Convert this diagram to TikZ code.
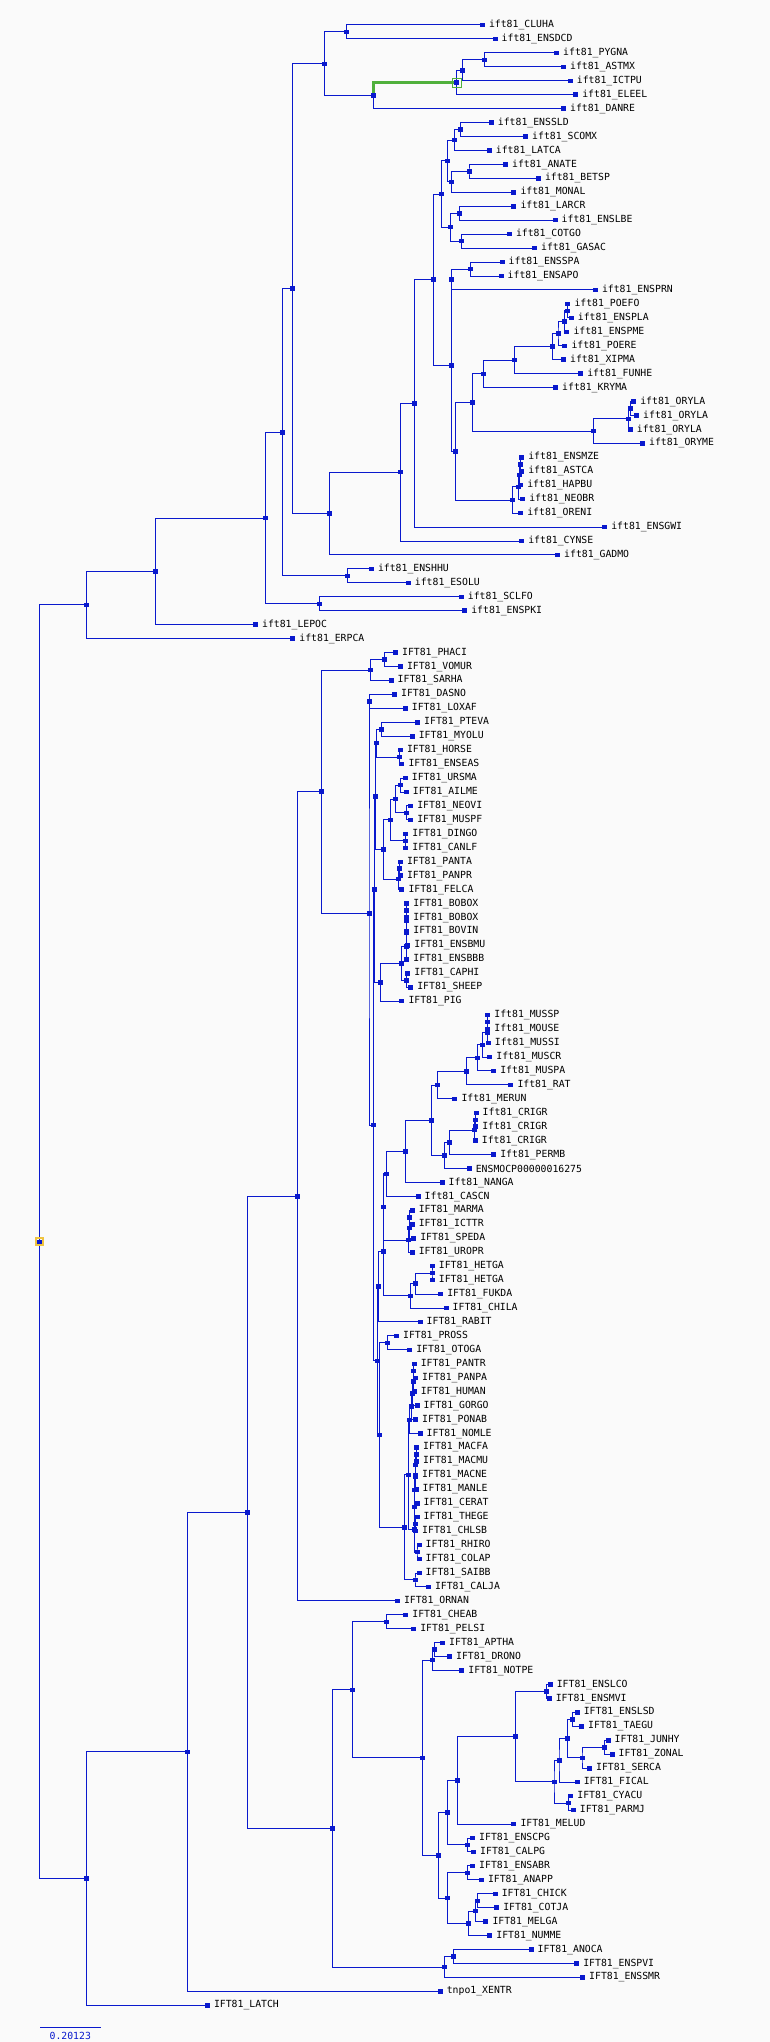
\documentclass[tikz,border=0pt]{standalone}
\usepackage{fontspec}
\usepackage{tikz}
\usetikzlibrary{calc}
\newfontfamily\tipfont{DejaVu Sans Mono}
\definecolor{treeblue}{RGB}{10,25,205}
\definecolor{paper}{RGB}{250,250,250}
\definecolor{pickgreen}{RGB}{80,176,60}
\definecolor{rootgold}{RGB}{240,196,64}
\tikzset{
  /tikz/.cd,
  branch/.style={draw=treeblue,line width=1pt},
  nodebox/.style={fill=treeblue,inner sep=0pt,minimum width=5pt,minimum height=4.5pt},
  taxon/.style={anchor=west,xshift=6.5pt,inner sep=0pt,font=\tipfont\fontsize{9.8}{10}\selectfont}
}
% leaf: name, row, x, label
\newcommand{\addleaf}[4]{%
  \coordinate (#1) at (#3,{25+(#2-1)*13.946});
  \node[nodebox] at (#1) {};
  \node[taxon] at (#1) {#4};}
% inner node: name, x, upper child, lower child
\newcommand{\addclade}[4]{%
  \path let \p1=($(#3)!.5!(#4)$) in (#2pt,\y1) coordinate (#1);
  \draw[branch] (#3) -| (#1) |- (#4);
  \node[nodebox] at (#1) {};}

\begin{document}
\begin{tikzpicture}[x=1pt,y=-1pt,
    picked/.style={draw=pickgreen,line width=2.8pt},
    pickbox/.style={draw=pickgreen,line width=0.8pt,inner sep=0pt,minimum size=9pt},
    rootbox/.style={draw=rootgold,line width=2pt,inner sep=0pt,minimum size=7pt}]
  \useasboundingbox (0,0) rectangle (770,2042);
  \fill[paper] (0,0) rectangle (770,2042);

  % ray-finned fishes
  \addleaf{cluha}{1}{482.3}{ift81\_CLUHA}
  \addleaf{ensdcd}{2}{495.0}{ift81\_ENSDCD}
  \addclade{n1}{346.8}{cluha}{ensdcd}
  \addleaf{pygna}{3}{556.5}{ift81\_PYGNA}
  \addleaf{astmx}{4}{563.4}{ift81\_ASTMX}
  \addclade{n2}{484.8}{pygna}{astmx}
  \addleaf{ictpu}{5}{570.2}{ift81\_ICTPU}
  \addclade{n3}{462.2}{n2}{ictpu}
  \addleaf{eleel}{6}{575.6}{ift81\_ELEEL}
  \addclade{n4}{456.8}{n3}{eleel}
  \addleaf{danre}{7}{563.4}{ift81\_DANRE}
  \addclade{n5}{373.8}{n4}{danre}
  \addclade{n6}{324.2}{n1}{n5}
  \addleaf{enssld}{8}{491.2}{ift81\_ENSSLD}
  \addleaf{scomx}{9}{525.5}{ift81\_SCOMX}
  \addclade{n7}{460.2}{enssld}{scomx}
  \addleaf{latca}{10}{489.2}{ift81\_LATCA}
  \addclade{n8}{454.3}{n7}{latca}
  \addleaf{anate}{11}{505.4}{ift81\_ANATE}
  \addleaf{betsp}{12}{538.3}{ift81\_BETSP}
  \addclade{n9}{469.0}{anate}{betsp}
  \addleaf{monal}{13}{513.8}{ift81\_MONAL}
  \addclade{n10}{451.9}{n9}{monal}
  \addclade{n11}{447.9}{n8}{n10}
  \addleaf{larcr}{14}{513.8}{ift81\_LARCR}
  \addleaf{enslbe}{15}{555.0}{ift81\_ENSLBE}
  \addclade{n12}{459.7}{larcr}{enslbe}
  \addleaf{cotgo}{16}{509.3}{ift81\_COTGO}
  \addleaf{gasac}{17}{534.4}{ift81\_GASAC}
  \addclade{n13}{461.7}{cotgo}{gasac}
  \addclade{n14}{450.4}{n12}{n13}
  \addclade{n15}{441.6}{n11}{n14}
  \addleaf{ensspa}{18}{502.0}{ift81\_ENSSPA}
  \addleaf{ensapo}{19}{501.0}{ift81\_ENSAPO}
  \addclade{n16}{470.5}{ensspa}{ensapo}
  \addleaf{ensprn}{20}{595.3}{ift81\_ENSPRN}
  \addclade{n17}{451.9}{n16}{ensprn}
  \addleaf{poefo}{21}{567.8}{ift81\_POEFO}
  \addleaf{enspla}{22}{571.2}{ift81\_ENSPLA}
  \addclade{n18}{567.3}{poefo}{enspla}
  \addleaf{enspme}{23}{566.8}{ift81\_ENSPME}
  \addclade{n19}{564.8}{n18}{enspme}
  \addleaf{poere}{24}{564.8}{ift81\_POERE}
  \addclade{n20}{558.0}{n19}{poere}
  \addleaf{xipma}{25}{563.4}{ift81\_XIPMA}
  \addclade{n21}{552.5}{n20}{xipma}
  \addleaf{funhe}{26}{580.6}{ift81\_FUNHE}
  \addclade{n22}{514.7}{n21}{funhe}
  \addleaf{kryma}{27}{555.5}{ift81\_KRYMA}
  \addclade{n23}{483.8}{n22}{kryma}
  \addleaf{oryla1}{28}{633.6}{ift81\_ORYLA}
  \addleaf{oryla2}{29}{636.5}{ift81\_ORYLA}
  \addclade{n24}{630.7}{oryla1}{oryla2}
  \addleaf{oryla3}{30}{630.2}{ift81\_ORYLA}
  \addclade{n25}{628.7}{n24}{oryla3}
  \addleaf{oryme}{31}{642.4}{ift81\_ORYME}
  \addclade{n26}{593.3}{n25}{oryme}
  \addclade{n27}{472.5}{n23}{n26}
  \addleaf{ensmze}{32}{521.6}{ift81\_ENSMZE}
  \addleaf{astca}{33}{521.6}{ift81\_ASTCA}
  \addclade{n28}{520.6}{ensmze}{astca}
  \addleaf{hapbu}{34}{520.6}{ift81\_HAPBU}
  \addclade{n29}{519.6}{n28}{hapbu}
  \addleaf{neobr}{35}{522.6}{ift81\_NEOBR}
  \addclade{n30}{518.7}{n29}{neobr}
  \addleaf{oreni}{36}{520.6}{ift81\_ORENI}
  \addclade{n31}{512.3}{n30}{oreni}
  \addclade{n32}{455.3}{n27}{n31}
  \addclade{n33}{451.4}{n17}{n32}
  \addclade{n34}{433.2}{n15}{n33}
  \addleaf{ensgwi}{37}{604.6}{ift81\_ENSGWI}
  \addclade{n35}{414.1}{n34}{ensgwi}
  \addleaf{cynse}{38}{521.6}{ift81\_CYNSE}
  \addclade{n36}{400.3}{n35}{cynse}
  \addleaf{gadmo}{39}{557.5}{ift81\_GADMO}
  \addclade{n37}{329.1}{n36}{gadmo}
  \addclade{n38}{292.7}{n6}{n37}
  \addleaf{enshhu}{40}{371.3}{ift81\_ENSHHU}
  \addleaf{esolu}{41}{408.2}{ift81\_ESOLU}
  \addclade{n39}{347.7}{enshhu}{esolu}
  \addclade{n40}{282.9}{n38}{n39}
  \addleaf{sclfo}{42}{461.2}{ift81\_SCLFO}
  \addleaf{enspki}{43}{464.6}{ift81\_ENSPKI}
  \addclade{n41}{319.7}{sclfo}{enspki}
  \addclade{n42}{265.7}{n40}{n41}
  \addleaf{lepoc}{44}{255.4}{ift81\_LEPOC}
  \addclade{n43}{155.7}{n42}{lepoc}
  \addleaf{erpca}{45}{292.7}{ift81\_ERPCA}
  \addclade{n44}{86.4}{n43}{erpca}

  % mammals
  \addleaf{phaci}{46}{395.4}{IFT81\_PHACI}
  \addleaf{vomur}{47}{400.3}{IFT81\_VOMUR}
  \addclade{m1}{384.1}{phaci}{vomur}
  \addleaf{sarha}{48}{391.0}{IFT81\_SARHA}
  \addclade{m2}{370.3}{m1}{sarha}
  \addleaf{dasno}{49}{394.4}{IFT81\_DASNO}
  \addleaf{loxaf}{50}{405.2}{IFT81\_LOXAF}
  \addclade{m3}{369.6}{dasno}{loxaf}
  \addleaf{pteva}{51}{417.5}{IFT81\_PTEVA}
  \addleaf{myolu}{52}{412.1}{IFT81\_MYOLU}
  \addclade{m4}{381.1}{pteva}{myolu}
  \addleaf{horse}{53}{400.3}{IFT81\_HORSE}
  \addleaf{enseas}{54}{401.8}{IFT81\_ENSEAS}
  \addclade{m5}{399.8}{horse}{enseas}
  \addclade{m6}{376.2}{m4}{m5}
  \addleaf{ursma}{55}{405.2}{IFT81\_URSMA}
  \addleaf{ailme}{56}{406.2}{IFT81\_AILME}
  \addclade{m7}{400.3}{ursma}{ailme}
  \addleaf{neovi}{57}{410.6}{IFT81\_NEOVI}
  \addleaf{muspf}{58}{410.6}{IFT81\_MUSPF}
  \addclade{m8}{406.2}{neovi}{muspf}
  \addclade{m9}{395.4}{m7}{m8}
  \addleaf{dingo}{59}{405.7}{IFT81\_DINGO}
  \addleaf{canlf}{60}{405.7}{IFT81\_CANLF}
  \addclade{m10}{405.2}{dingo}{canlf}
  \addclade{m11}{390.5}{m9}{m10}
  \addleaf{panta}{61}{400.3}{IFT81\_PANTA}
  \addleaf{panpr}{62}{400.3}{IFT81\_PANPR}
  \addclade{m12}{399.3}{panta}{panpr}
  \addleaf{felca}{63}{401.8}{IFT81\_FELCA}
  \addclade{m13}{398.3}{m12}{felca}
  \addclade{m14}{383.1}{m11}{m13}
  \addclade{m15}{375.2}{m6}{m14}
  \addleaf{bobox1}{64}{406.7}{IFT81\_BOBOX}
  \addleaf{bobox2}{65}{406.7}{IFT81\_BOBOX}
  \addclade{m16}{406.5}{bobox1}{bobox2}
  \addleaf{bovin}{66}{406.7}{IFT81\_BOVIN}
  \addclade{m17}{406.4}{m16}{bovin}
  \addleaf{ensbmu}{67}{407.7}{IFT81\_ENSBMU}
  \addclade{m18}{406.3}{m17}{ensbmu}
  \addleaf{ensbbb}{68}{406.7}{IFT81\_ENSBBB}
  \addclade{m19}{406.2}{m18}{ensbbb}
  \addleaf{caphi}{69}{407.7}{IFT81\_CAPHI}
  \addleaf{sheep}{70}{410.6}{IFT81\_SHEEP}
  \addclade{m20}{406.2}{caphi}{sheep}
  \addclade{m21}{401.8}{m19}{m20}
  \addleaf{pig}{71}{401.8}{IFT81\_PIG}
  \addclade{m22}{380.2}{m21}{pig}
  \addclade{m23}{374.8}{m15}{m22}
  \addleaf{mussp}{72}{487.7}{Ift81\_MUSSP}
  \addleaf{mouse}{73}{487.7}{Ift81\_MOUSE}
  \addclade{m24}{487.5}{mussp}{mouse}
  \addleaf{mussi}{74}{488.2}{Ift81\_MUSSI}
  \addclade{m25}{487.2}{m24}{mussi}
  \addleaf{muscr}{75}{489.7}{Ift81\_MUSCR}
  \addclade{m26}{482.8}{m25}{muscr}
  \addleaf{muspa}{76}{493.6}{Ift81\_MUSPA}
  \addclade{m27}{477.4}{m26}{muspa}
  \addleaf{rat}{77}{510.8}{Ift81\_RAT}
  \addclade{m28}{466.1}{m27}{rat}
  \addleaf{merun}{78}{454.8}{Ift81\_MERUN}
  \addclade{m29}{437.6}{m28}{merun}
  \addleaf{crigr1}{79}{476.0}{Ift81\_CRIGR}
  \addleaf{crigr2}{80}{475.6}{Ift81\_CRIGR}
  \addclade{m30}{475.2}{crigr1}{crigr2}
  \addleaf{crigr3}{81}{475.2}{Ift81\_CRIGR}
  \addclade{m31}{474.9}{m30}{crigr3}
  \addleaf{permb}{82}{493.6}{Ift81\_PERMB}
  \addclade{m32}{449.4}{m31}{permb}
  \addleaf{ensmocp}{83}{469.1}{ENSMOCP00000016275}
  \addclade{m33}{444.5}{m32}{ensmocp}
  \addclade{m34}{431.3}{m29}{m33}
  \addleaf{nanga}{84}{442.0}{Ift81\_NANGA}
  \addclade{m35}{405.7}{m34}{nanga}
  \addleaf{cascn}{85}{418.0}{Ift81\_CASCN}
  \addclade{m36}{386.5}{m35}{cascn}
  \addleaf{marma}{86}{412.1}{IFT81\_MARMA}
  \addleaf{ictt}{87}{412.1}{IFT81\_ICTTR}
  \addclade{m37}{409.6}{marma}{ictt}
  \addleaf{speda}{88}{413.6}{IFT81\_SPEDA}
  \addclade{m38}{409.3}{m37}{speda}
  \addleaf{uropr}{89}{412.1}{IFT81\_UROPR}
  \addclade{m39}{408.2}{m38}{uropr}
  \addclade{m40}{383.8}{m36}{m39}
  \addleaf{hetga1}{90}{432.2}{IFT81\_HETGA}
  \addleaf{hetga2}{91}{432.2}{IFT81\_HETGA}
  \addclade{m41}{432.0}{hetga1}{hetga2}
  \addleaf{fukda}{92}{440.6}{IFT81\_FUKDA}
  \addclade{m42}{415.5}{m41}{fukda}
  \addleaf{chila}{93}{446.0}{IFT81\_CHILA}
  \addclade{m43}{410.1}{m42}{chila}
  \addclade{m44}{383.4}{m40}{m43}
  \addleaf{rabit}{94}{420.0}{IFT81\_RABIT}
  \addclade{m45}{378.4}{m44}{rabit}
  \addleaf{pross}{95}{396.4}{IFT81\_PROSS}
  \addleaf{otoga}{96}{409.6}{IFT81\_OTOGA}
  \addclade{m46}{387.5}{pross}{otoga}
  % primates
  \addleaf{pantr}{97}{414.1}{IFT81\_PANTR}
  \addleaf{panpa}{98}{415.5}{IFT81\_PANPA}
  \addclade{p1}{413.6}{pantr}{panpa}
  \addleaf{human}{99}{414.1}{IFT81\_HUMAN}
  \addclade{p2}{413.4}{p1}{human}
  \addleaf{gorgo}{100}{417.0}{IFT81\_GORGO}
  \addclade{p3}{412.5}{p2}{gorgo}
  \addleaf{ponab}{101}{415.5}{IFT81\_PONAB}
  \addclade{p4}{411.6}{p3}{ponab}
  \addleaf{nomle}{102}{420.0}{IFT81\_NOMLE}
  \addclade{p5}{409.1}{p4}{nomle}
  \addleaf{macfa}{103}{416.5}{IFT81\_MACFA}
  \addleaf{macmu}{104}{416.5}{IFT81\_MACMU}
  \addclade{p6}{416.3}{macfa}{macmu}
  \addleaf{macne}{105}{415.5}{IFT81\_MACNE}
  \addclade{p7}{415.3}{p6}{macne}
  \addleaf{manle}{106}{416.0}{IFT81\_MANLE}
  \addclade{p8}{415.1}{p7}{manle}
  \addleaf{cerat}{107}{417.0}{IFT81\_CERAT}
  \addclade{p9}{414.9}{p8}{cerat}
  \addleaf{thege}{108}{417.0}{IFT81\_THEGE}
  \addleaf{chlsb}{109}{415.5}{IFT81\_CHLSB}
  \addclade{p10}{415.3}{thege}{chlsb}
  \addclade{p11}{414.6}{p9}{p10}
  \addleaf{rhiro}{110}{419.0}{IFT81\_RHIRO}
  \addleaf{colap}{111}{419.0}{IFT81\_COLAP}
  \addclade{p12}{417.0}{rhiro}{colap}
  \addclade{p13}{414.3}{p11}{p12}
  \addclade{p14}{408.6}{p5}{p13}
  \addleaf{saibb}{112}{419.0}{IFT81\_SAIBB}
  \addleaf{calja}{113}{428.3}{IFT81\_CALJA}
  \addclade{p15}{415.0}{saibb}{calja}
  \addclade{p16}{404.2}{p14}{p15}
  \addclade{m47}{379.2}{m46}{p16}
  \addclade{m48}{377.9}{m45}{m47}
  \addclade{m49}{373.3}{m23}{m48}
  \addclade{m50}{369.0}{m3}{m49}
  \addclade{m51}{321.7}{m2}{m50}
  \addleaf{ornan}{114}{397.3}{IFT81\_ORNAN}
  \addclade{m52}{297.2}{m51}{ornan}

  % reptiles and birds
  \addleaf{cheab}{115}{405.7}{IFT81\_CHEAB}
  \addleaf{pelsi}{116}{413.6}{IFT81\_PELSI}
  \addclade{b1}{386.5}{cheab}{pelsi}
  \addleaf{aptha}{117}{442.5}{IFT81\_APTHA}
  \addleaf{drono}{118}{449.4}{IFT81\_DRONO}
  \addclade{b2}{434.2}{aptha}{drono}
  \addleaf{notpe}{119}{461.7}{IFT81\_NOTPE}
  \addclade{b3}{432.2}{b2}{notpe}
  \addleaf{enslco}{120}{550.1}{IFT81\_ENSLCO}
  \addleaf{ensmvi}{121}{549.1}{IFT81\_ENSMVI}
  \addclade{b4}{546.7}{enslco}{ensmvi}
  \addleaf{enslsd}{122}{577.1}{IFT81\_ENSLSD}
  \addleaf{taegu}{123}{581.5}{IFT81\_TAEGU}
  \addclade{b5}{572.7}{enslsd}{taegu}
  \addleaf{junhy}{124}{608.0}{IFT81\_JUNHY}
  \addleaf{zonal}{125}{612.0}{IFT81\_ZONAL}
  \addclade{b6}{604.1}{junhy}{zonal}
  \addleaf{serca}{126}{589.4}{IFT81\_SERCA}
  \addclade{b7}{582.0}{b6}{serca}
  \addclade{b8}{567.8}{b5}{b7}
  \addleaf{fical}{127}{577.1}{IFT81\_FICAL}
  \addclade{b9}{559.0}{b8}{fical}
  \addleaf{cyacu}{128}{570.7}{IFT81\_CYACU}
  \addleaf{parmj}{129}{573.2}{IFT81\_PARMJ}
  \addclade{b10}{568.8}{cyacu}{parmj}
  \addclade{b11}{554.0}{b9}{b10}
  \addclade{b12}{515.2}{b4}{b11}
  \addleaf{melud}{130}{513.8}{IFT81\_MELUD}
  \addclade{b13}{457.3}{b12}{melud}
  \addleaf{enscpg}{131}{472.5}{IFT81\_ENSCPG}
  \addleaf{calpg}{132}{473.5}{IFT81\_CALPG}
  \addclade{b14}{467.1}{enscpg}{calpg}
  \addclade{b15}{447.9}{b13}{b14}
  \addleaf{ensabr}{133}{472.5}{IFT81\_ENSABR}
  \addleaf{anapp}{134}{481.3}{IFT81\_ANAPP}
  \addclade{b16}{467.1}{ensabr}{anapp}
  \addleaf{chick}{135}{495.1}{IFT81\_CHICK}
  \addleaf{cotja}{136}{496.6}{IFT81\_COTJA}
  \addclade{b17}{477.4}{chick}{cotja}
  \addleaf{melga}{137}{485.8}{IFT81\_MELGA}
  \addclade{b18}{475.9}{b17}{melga}
  \addleaf{numme}{138}{489.7}{IFT81\_NUMME}
  \addclade{b19}{468.6}{b18}{numme}
  \addclade{b20}{447.9}{b16}{b19}
  \addclade{b21}{438.6}{b15}{b20}
  \addclade{b22}{422.4}{b3}{b21}
  \addclade{b23}{352.7}{b1}{b22}
  \addleaf{anoca}{139}{531.0}{IFT81\_ANOCA}
  \addleaf{enspvi}{140}{576.6}{IFT81\_ENSPVI}
  \addclade{b24}{453.3}{anoca}{enspvi}
  \addleaf{enssmr}{141}{582.5}{IFT81\_ENSSMR}
  \addclade{b25}{444.5}{b24}{enssmr}
  \addclade{b26}{332.5}{b23}{b25}

  \addclade{m53}{247.5}{m52}{b26}
  \addleaf{xentr}{142}{440.1}{tnpo1\_XENTR}
  \addclade{m54}{187.1}{m53}{xentr}
  \addleaf{latch}{143}{207.3}{IFT81\_LATCH}
  \addclade{m55}{86.4}{m54}{latch}
  \addclade{root}{39.8}{n44}{m55}

  % marked branch and root
  \draw[picked] (n5) |- (n4);
  \node[pickbox] at (n4) {};
  \node[nodebox] at (n4) {};
  \node[nodebox] at (n5) {};
  \node[rootbox] at (root) {};
  \node[nodebox] at (root) {};

  % scale bar
  \coordinate (bar0) at (40,2027.7);
  \coordinate (bar1) at (100.7,2027.7);
  \draw[treeblue,line width=1.5pt] (bar0) -- (bar1);
  \node[inner sep=0pt,text=treeblue,font=\tipfont\fontsize{9.8}{10}\selectfont] (barlabel) at (70.3,2036.3) {0.20123};
\end{tikzpicture}
\end{document}
